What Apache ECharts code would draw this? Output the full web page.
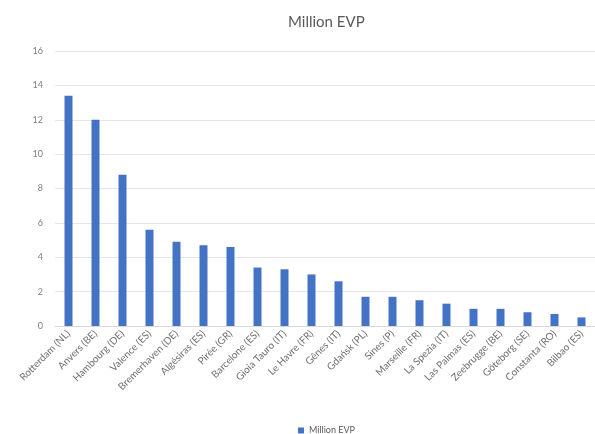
<!DOCTYPE html>
<html>
<head>
<meta charset="utf-8">
<script src="https://cdn.jsdelivr.net/npm/echarts@6/dist/echarts.min.js"></script>
<style>
	html, body { margin: 0; padding: 0; background: #fff; }
	#myChart { width: 595px; height: 434px; }
</style>
</head>
<body>
<div id="myChart"></div>
<script>
	// ports et volumes
	var ports = [
		"Rotterdam (NL)", "Anvers (BE)", "Hambourg (DE)", "Valence (ES)", "Bremerhaven (DE)",
		"Algésiras (ES)", "Pirée (GR)", "Barcelone (ES)", "Gioia Tauro (IT)", "Le Havre (FR)",
		"Gênes (IT)", "Gdańsk (PL)", "Sines (P)", "Marseille (FR)", "La Spezia (IT)",
		"Las Palmas (ES)", "Zeebrugge (BE)", "Göteborg (SE)", "Constanta (RO)", "Bilbao (ES)"
	];
	var millionEvp = [13.4, 12.0, 8.8, 5.6, 4.9, 4.7, 4.6, 3.4, 3.3, 3.0, 2.6, 1.7, 1.7, 1.5, 1.3, 1.0, 1.0, 0.8, 0.7, 0.5];
	var yTicks = [0, 2, 4, 6, 8, 10, 12, 14, 16];

	var chart = echarts.init(document.getElementById("myChart"));
	var option = {
		animation: false,
		title: {
			text: "Million EVP",
			left: 283,
			top: 10,
			textStyle: { fontFamily: "Lato", fontSize: 15, fontWeight: "normal", color: "#595959" }
		},
		legend: {
			data: ["Million EVP"],
			left: 293,
			top: 421,
			itemWidth: 6,
			itemHeight: 6,
			itemGap: 4,
			icon: "rect",
			textStyle: { fontFamily: "Lato", fontSize: 9, color: "#595959" }
		},
		grid: {
			left: 55,
			right: 0,
			top: 51,
			bottom: 108
		},
		xAxis: {
			type: "category",
			data: ports,
			axisLine: { lineStyle: { color: "#d9d9d9" } },
			axisTick: { show: false },
			axisLabel: {
				rotate: 45,
				interval: 0,
				margin: 6,
				fontFamily: "Lato",
				fontSize: 10,
				color: "#6f6f6f"
			}
		},
		yAxis: {
			type: "value",
			min: yTicks[0],
			max: yTicks[yTicks.length - 1],
			interval: 2,
			axisLine: { show: false },
			axisTick: { show: false },
			axisLabel: { fontFamily: "Lato", fontSize: 9, color: "#7f7f7f", margin: 12 },
			splitLine: { lineStyle: { color: "#e6e6e6" } }
		},
		series: [
			{
				name: "Million EVP",
				type: "bar",
				barWidth: 8,
				itemStyle: { color: "#4472c4" },
				data: millionEvp
			}
		]
	};
	chart.setOption(option);
</script>
</body>
</html>
